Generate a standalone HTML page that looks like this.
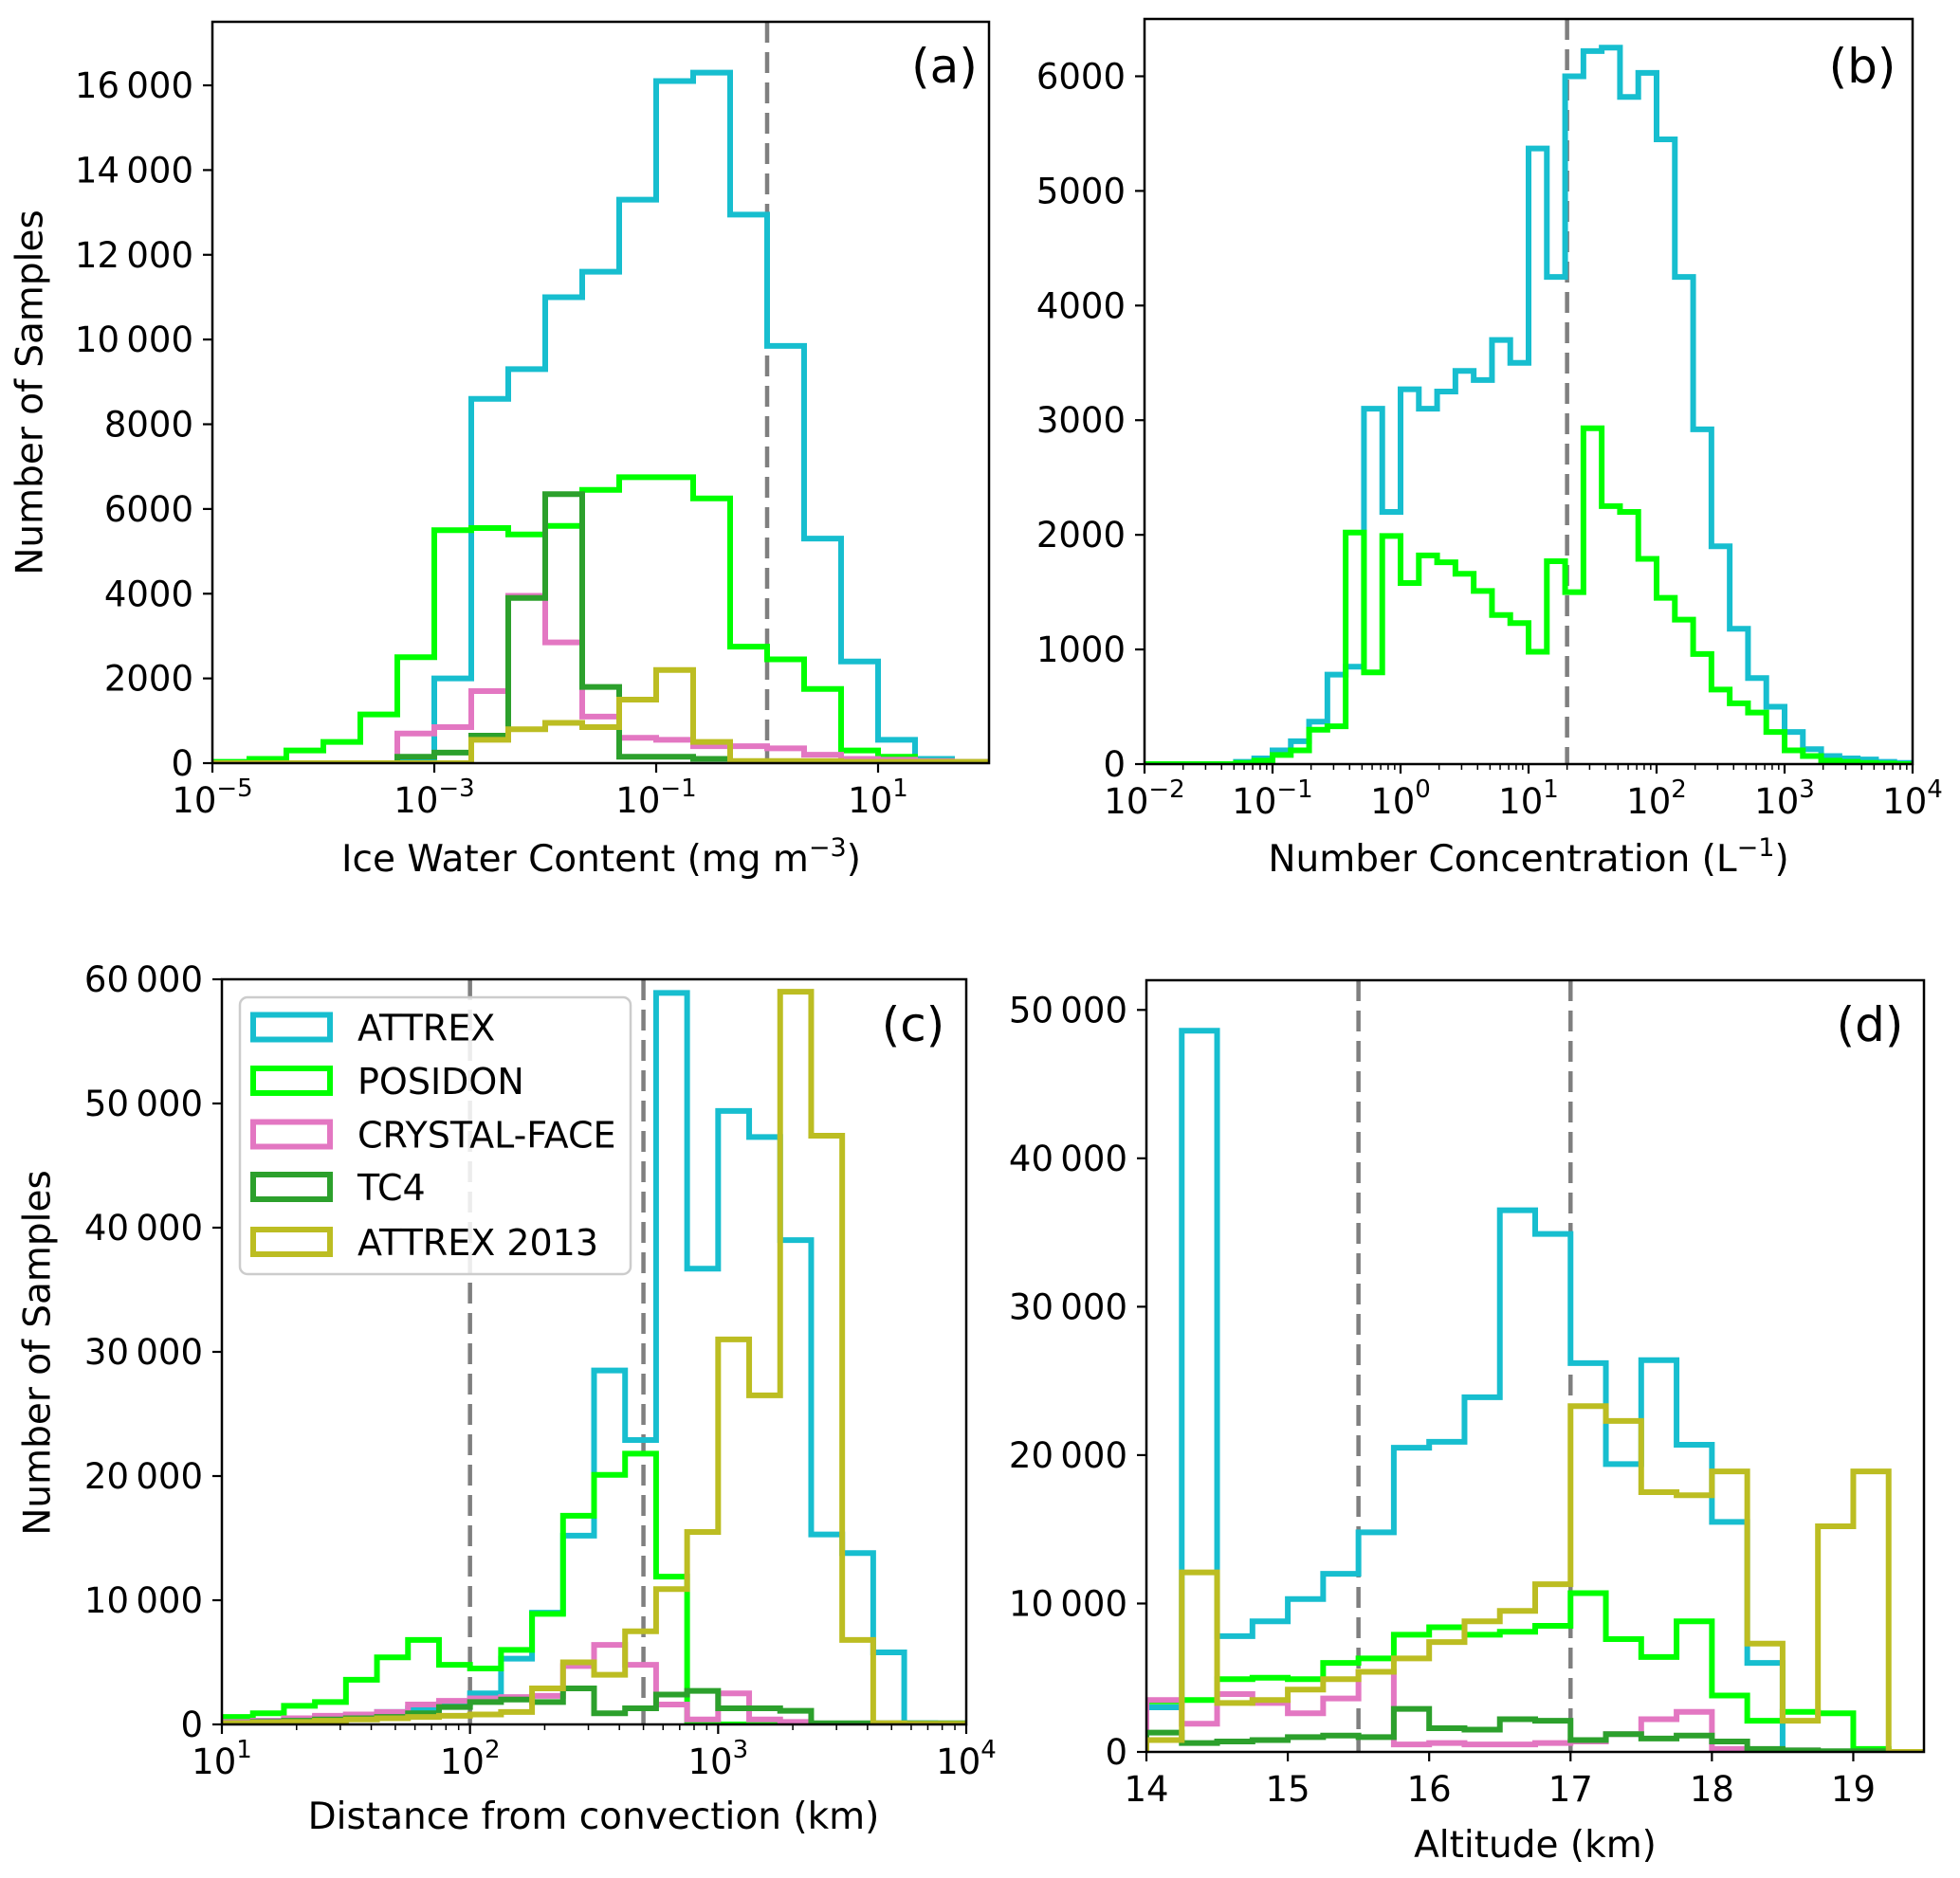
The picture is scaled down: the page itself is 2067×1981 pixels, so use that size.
<!DOCTYPE html>
<html><head><meta charset="utf-8"><style>
html,body{margin:0;padding:0;background:#fff;}
svg{display:block;font-family:"DejaVu Sans","Liberation Sans",sans-serif;}
</style></head><body>
<svg id="fig" width="2067" height="1981" viewBox="0 0 2067 1981" xmlns="http://www.w3.org/2000/svg"></svg>
<script>
// ---- data ----
const seriesNames = ["ATTREX","POSIDON","CRYSTAL-FACE","TC4","ATTREX 2013"];
const seriesColors = ["#17becf","#00ff00","#e377c2","#2ca02c","#bcbd22"];

// (a) Ice water content, 21 log bins from 1e-5, 1/3 decade each
const aBinStart = [-5]; const aBinStep = [1/3];
const aAttrex  = [0,0,0,0,0,30,2000,8600,9300,11000,11600,13300,16100,16300,12950,9850,5300,2400,550,100,30];
const aPosidon = [30,100,300,500,1150,2500,5500,5550,5400,5600,6450,6750,6750,6250,2750,2450,1750,300,150,50,30];
const aCrystal = [0,0,0,0,0,700,850,1700,3950,2850,1100,600,550,400,400,350,200,100,80,50,30];
const aTC4     = [0,0,0,0,0,150,250,650,3900,6350,1800,150,150,100,0,0,0,0,0,0,0];
const aAttrex13= [0,0,0,0,0,0,0,550,800,950,850,1500,2200,500,50,50,50,30,30,30,30];
const aYTicks = [0,2000,4000,6000,8000,10000,12000,14000,16000];
const aYLabels = ["0","2000","4000","6000","8000","10\u2009000","12\u2009000","14\u2009000","16\u2009000"];
const aXTicks = [-5,-3,-1,1];

// (b) Number concentration, 42 log bins from 1e-2, 1/7 decade each
const bBinStart = [-2]; const bBinStep = [1/7];
const bAttrex  = [0,0,0,0,0,20,50,120,200,370,780,850,3100,2200,3270,3100,3250,3430,3350,3700,3500,5370,4250,6000,6220,6250,5820,6030,5450,4250,2920,1900,1180,750,500,280,130,70,50,40,20,10];
const bPosidon = [0,0,0,0,0,10,30,80,120,300,330,2020,800,1990,1580,1820,1760,1660,1510,1300,1230,980,1770,1500,2930,2250,2200,1790,1450,1260,960,650,530,450,280,120,70,30,20,10,5,0];
const bYTicks = [0,1000,2000,3000,4000,5000,6000];
const bYLabels = ["0","1000","2000","3000","4000","5000","6000"];
const bXTicks = [-2,-1,0,1,2,3,4];

// (c) Distance from convection, 24 log bins from 1e1, 1/8 decade each
const cBinStart = [1]; const cBinStep = [1/8];
const cAttrex  = [200,300,400,600,800,1000,1300,1700,2500,5300,9000,15200,28500,22900,58900,36700,49400,47300,39000,15300,13800,5800,100,50];
const cPosidon = [600,900,1500,1800,3600,5400,6800,4800,4500,6000,8900,16800,20100,21800,11900,100,0,0,0,0,0,0,0,0];
const cCrystal = [200,300,500,700,800,1000,1600,1900,2100,2200,2300,4700,6400,4800,1600,400,2500,400,200,50,50,50,50,50];
const cTC4     = [100,200,300,400,500,600,900,1400,1800,2000,1800,2900,900,1300,2400,2700,1300,1300,1100,100,100,100,100,100];
const cAttrex13= [100,150,200,300,400,500,600,700,800,1000,2900,5000,4000,7500,10900,15500,31000,26500,59000,47400,6800,100,50,50];
const cYTicks = [0,10000,20000,30000,40000,50000,60000];
const cYLabels = ["0","10\u2009000","20\u2009000","30\u2009000","40\u2009000","50\u2009000","60\u2009000"];
const cXTicks = [1,2,3,4];

// (d) Altitude, 22 linear bins from 14 km, 0.25 km each
const dBinStart = [14]; const dBinStep = [0.25];
const dAttrex  = [3000,48600,7800,8800,10300,12000,14800,20500,20900,23900,36500,34900,26200,19400,26400,20700,15500,6000,0,0,0,0];
const dPosidon = [3400,3500,4900,5000,4900,6000,6300,7900,8400,7900,8100,8500,10700,7600,6400,8800,3800,2100,2700,2600,200,0];
const dCrystal = [3500,1900,3900,3300,2600,3600,5400,500,600,500,500,600,700,1200,2200,2700,200,150,100,0,0,0];
const dTC4     = [1300,600,700,800,1000,1100,1000,2900,1600,1500,2200,2100,800,1200,900,1100,700,200,100,50,50,0];
const dAttrex13= [800,12100,3300,3500,4200,4900,5400,6300,7400,8800,9500,11300,23300,22300,17500,17300,18900,7300,2100,15200,18900,0];
const dYTicks = [0,10000,20000,30000,40000,50000];
const dYLabels = ["0","10\u2009000","20\u2009000","30\u2009000","40\u2009000","50\u2009000"];
const dXTicks = [14,15,16,17,18,19];

// ---- drawing ----
const NS = "http://www.w3.org/2000/svg";
const svg = document.getElementById('fig');
function mk(tag, attrs, parent){
  const e = document.createElementNS(NS, tag);
  for (const k in attrs) e.setAttribute(k, attrs[k]);
  (parent||svg).appendChild(e);
  return e;
}

function panel(cfg){
  const g = mk('g', {});
  
  
  const L=cfg.box[0], T=cfg.box[1], R=cfg.box[2], B=cfg.box[3];
  const xs = v => L + (v - cfg.xlim[0])/(cfg.xlim[1]-cfg.xlim[0])*(R-L);
  const ys = v => B - v/cfg.ymax*(B-T);
  const clipId = cfg.name+'-clip';
  const cp = mk('clipPath', {id:clipId}, g);
  mk('rect', {x:L, y:T, width:R-L, height:B-T}, cp);
  const plot = mk('g', {'clip-path':'url(#'+clipId+')'}, g);
  cfg.vlines.forEach((v,i)=>{
    const l = mk('line', {x1:xs(v), x2:xs(v), y1:T, y2:B, stroke:'#7f7f7f', 'stroke-width':4.5, 'stroke-dasharray':'22,10'}, plot);
    
    
  });
  cfg.series.forEach((vals, si)=>{
    if(!vals) return;
    let d = 'M'+xs(cfg.binStart)+','+ys(0);
    for (let i=0;i<vals.length;i++){
      const x0 = xs(cfg.binStart + i*cfg.binStep), x1 = xs(cfg.binStart + (i+1)*cfg.binStep);
      d += ' L'+x0+','+ys(vals[i])+' L'+x1+','+ys(vals[i]);
    }
    d += ' L'+xs(cfg.binStart + vals.length*cfg.binStep)+','+ys(0);
    const p = mk('path', {d:d, fill:'none', stroke:seriesColors[si], 'stroke-width':6, 'stroke-linejoin':'miter'}, plot);
    
    
  });
  const fr = mk('rect', {x:L, y:T, width:R-L, height:B-T, fill:'none', stroke:'#000', 'stroke-width':2.5}, g);
  
  
  cfg.yticks.forEach((v,i)=>{
    mk('line', {x1:L-10, x2:L, y1:ys(v), y2:ys(v), stroke:'#000', 'stroke-width':2.2}, g);
    const t = mk('text', {x:L-20, y:ys(v)+13, 'text-anchor':'end', 'font-size':37, fill:'#000'}, g);
    t.textContent = cfg.ylabels[i];
    
    
  });
  cfg.xticks.forEach(v=>{
    mk('line', {x1:xs(v), x2:xs(v), y1:B, y2:B+10, stroke:'#000', 'stroke-width':2.2}, g);
    const t = mk('text', {x:xs(v), y:B+52, 'text-anchor':'middle', 'font-size':37, fill:'#000'}, g);
    if (cfg.log){
      const a = mk('tspan', {}, t); a.textContent = '10';
      const e = mk('tspan', {dy:-17, 'font-size':26}, t); e.textContent = (v<0?'\u2212':'')+Math.abs(v);
    } else t.textContent = String(v);
    
    
  });
  if (cfg.log && cfg.minor){
    for (let dec=cfg.xlim[0]; dec<cfg.xlim[1]; dec++){
      for (let m=2;m<10;m++){
        const x = xs(dec+Math.log10(m));
        mk('line', {x1:x, x2:x, y1:B, y2:B+6, stroke:'#000', 'stroke-width':1.5}, g);
      }
    }
  }
  const xl = mk('text', {x:cfg.xlabelPos[0], y:cfg.xlabelPos[1]+13, 'text-anchor':'middle', 'font-size':39, fill:'#000'}, g);
  cfg.xlabel.forEach(part=>{
    const s = mk('tspan', part.sup?{dy:-16,'font-size':27}:(part.down?{dy:16}:{}), xl); s.textContent = part.t;
  });
  
  
  if (cfg.ylabelPos){
    const yl = mk('text', {x:0, y:0, transform:'translate('+cfg.ylabelPos[0]+','+cfg.ylabelPos[1]+') rotate(-90)', 'text-anchor':'middle', 'dominant-baseline':'central', 'font-size':39, fill:'#000'}, g);
    yl.textContent = 'Number of Samples';
    
    
  }
  const pl = mk('text', {x:cfg.tagPos[0], y:cfg.tagPos[1]+17, 'text-anchor':'middle', 'font-size':50, fill:'#000'}, g);
  pl.textContent = cfg.tag;
  
  
}

panel({name:'panel-a', box:[224,23,1043,805], xlim:[-5,2], ymax:17500, log:true, minor:false,
  binStart:aBinStart[0], binStep:aBinStep[0], series:[aAttrex,aPosidon,aCrystal,aTC4,aAttrex13],
  yticks:aYTicks, ylabels:aYLabels, xticks:aXTicks, vlines:[0],
  xlabel:[{t:'Ice Water Content (mg m'},{t:'\u22123',sup:true},{t:')',down:true}], xlabelPos:[634,906], ylabelPos:[32,414], tag:'(a)', tagPos:[996,70]});
panel({name:'panel-b', box:[1207,20,2017,806], xlim:[-2,4], ymax:6500, log:true, minor:true,
  binStart:bBinStart[0], binStep:bBinStep[0], series:[bAttrex,bPosidon],
  yticks:bYTicks, ylabels:bYLabels, xticks:bXTicks, vlines:[Math.log10(20)],
  xlabel:[{t:'Number Concentration (L'},{t:'\u22121',sup:true},{t:')',down:true}], xlabelPos:[1612,906], tag:'(b)', tagPos:[1964,70]});
panel({name:'panel-c', box:[234,1033,1019,1819], xlim:[1,4], ymax:60000, log:true, minor:true,
  binStart:cBinStart[0], binStep:cBinStep[0], series:[cAttrex,cPosidon,cCrystal,cTC4,cAttrex13],
  yticks:cYTicks, ylabels:cYLabels, xticks:cXTicks, vlines:[2,Math.log10(500)],
  xlabel:[{t:'Distance from convection (km)'}], xlabelPos:[626,1916], ylabelPos:[40,1427], tag:'(c)', tagPos:[963,1081]});
panel({name:'panel-d', box:[1209,1034,2029,1848], xlim:[14,19.5], ymax:52000, log:false,
  binStart:dBinStart[0], binStep:dBinStep[0], series:[dAttrex,dPosidon,dCrystal,dTC4,dAttrex13],
  yticks:dYTicks, ylabels:dYLabels, xticks:dXTicks, vlines:[15.5,17],
  xlabel:[{t:'Altitude (km)'}], xlabelPos:[1619,1946], tag:'(d)', tagPos:[1972,1081]});

const lg = mk('g', {});


mk('rect', {x:253, y:1052, width:412, height:292, rx:8, fill:'#fff', 'fill-opacity':0.85, stroke:'#cccccc', 'stroke-width':2.5}, lg);
const rowY = [1083.5,1140,1196.5,1252,1310];
seriesNames.forEach((n,i)=>{
  const e = mk('g', {}, lg);
  
  
  mk('rect', {x:267, y:rowY[i]-13, width:81, height:26, fill:'none', stroke:seriesColors[i], 'stroke-width':6}, e);
  const t = mk('text', {x:377, y:rowY[i]+14, 'font-size':38, fill:'#000'}, e);
  t.textContent = n;
});
</script>
</body></html>
